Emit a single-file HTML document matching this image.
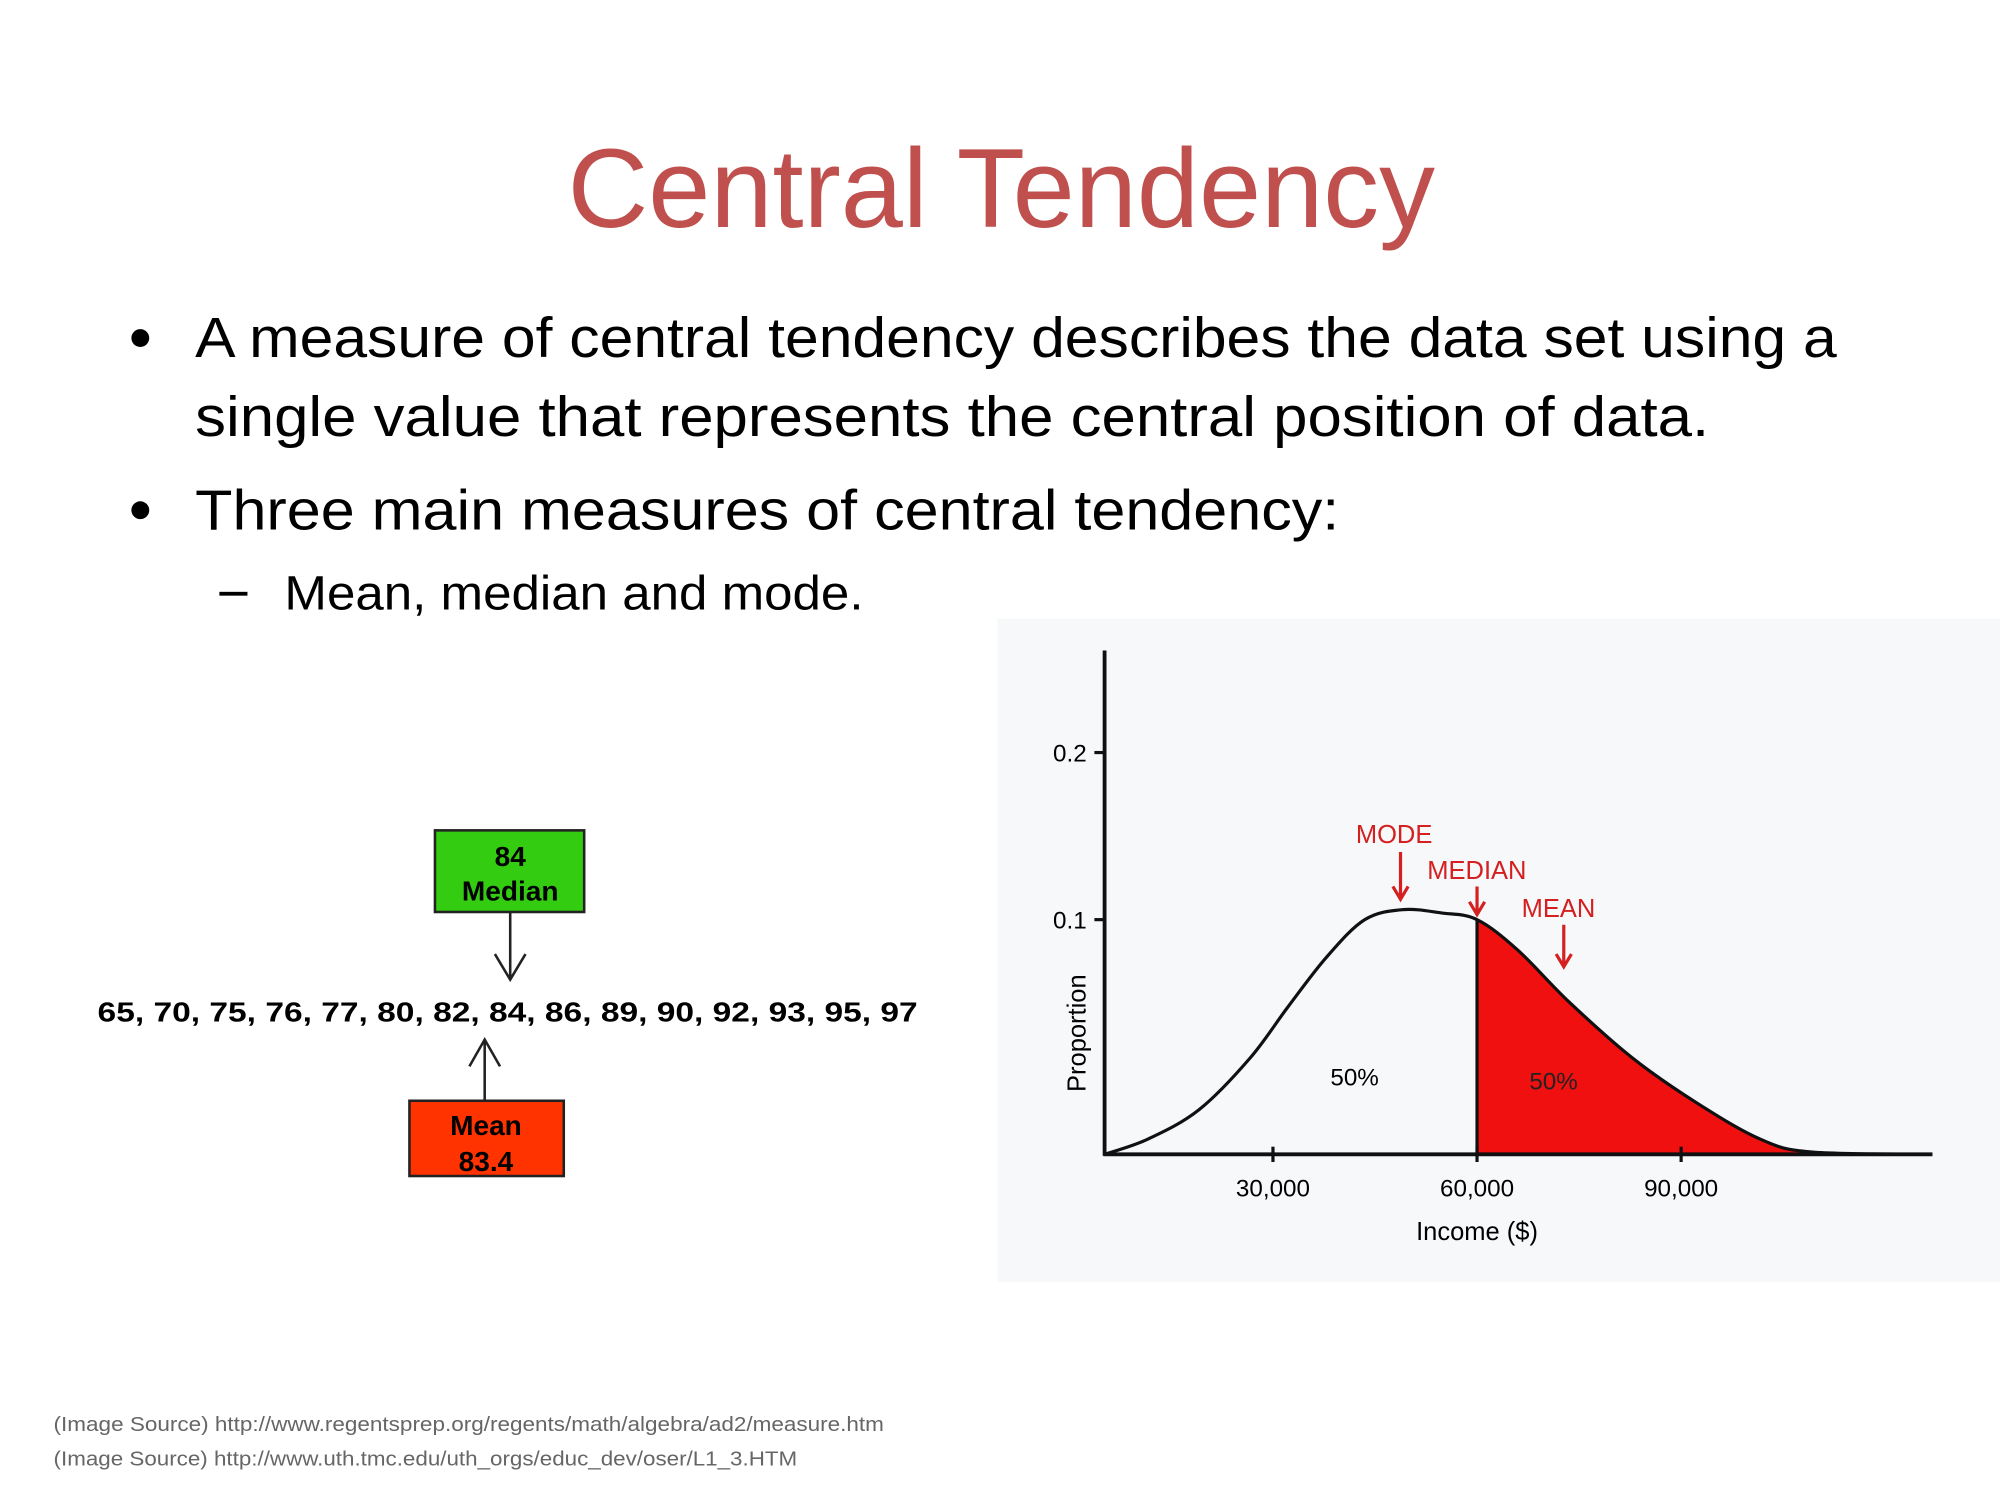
<!DOCTYPE html>
<html><head><meta charset="utf-8"><style>
html,body{margin:0;padding:0;background:#fff;}
svg{display:block;}
text{font-family:"Liberation Sans",sans-serif;}
</style></head><body>
<svg id="slide" width="2000" height="1500" viewBox="0 0 1568 1176">
<rect width="1568" height="1176" fill="#fff"/>
<text x="785" y="178" text-anchor="middle" font-size="88" fill="#c0504d" textLength="680" lengthAdjust="spacingAndGlyphs">Central Tendency</text>
<circle cx="110" cy="265" r="7" fill="#000"/>
<text x="153" y="280" font-size="44" textLength="1287" lengthAdjust="spacingAndGlyphs">A measure of central tendency describes the data set using a</text>
<text x="153" y="342" font-size="44" textLength="1187" lengthAdjust="spacingAndGlyphs">single value that represents the central position of data.</text>
<circle cx="110" cy="400" r="7" fill="#000"/>
<text x="153" y="415" font-size="44" textLength="897" lengthAdjust="spacingAndGlyphs">Three main measures of central tendency:</text>
<rect x="172" y="464" width="22" height="3" fill="#000"/>
<text x="223" y="478" font-size="38" textLength="454" lengthAdjust="spacingAndGlyphs">Mean, median and mode.</text>

<g>
<rect x="341" y="651" width="117" height="64" fill="#33cc11" stroke="#222" stroke-width="2"/>
<text x="400" y="679" text-anchor="middle" font-size="22" font-weight="bold">84</text>
<text x="400" y="706" text-anchor="middle" font-size="22" font-weight="bold">Median</text>
<path d="M400 715 V768 M388 748 L400 768 L412 748" stroke="#222" stroke-width="2" fill="none"/>
<text x="398" y="801" text-anchor="middle" font-size="22" font-weight="bold" textLength="643" lengthAdjust="spacingAndGlyphs">65, 70, 75, 76, 77, 80, 82, 84, 86, 89, 90, 92, 93, 95, 97</text>
<path d="M380 863 V815 M368 836 L380 815 L392 836" stroke="#222" stroke-width="2" fill="none"/>
<rect x="321" y="863" width="121" height="59" fill="#ff3300" stroke="#222" stroke-width="2"/>
<text x="381" y="890" text-anchor="middle" font-size="22" font-weight="bold">Mean</text>
<text x="381" y="918" text-anchor="middle" font-size="22" font-weight="bold">83.4</text>
</g>

<g id="chart">
<rect x="782" y="485" width="786" height="520" fill="#f7f8fa"/>
</g>

<text x="42" y="1122" font-size="16" fill="#666" textLength="651" lengthAdjust="spacingAndGlyphs">(Image Source) http://www.regentsprep.org/regents/math/algebra/ad2/measure.htm</text>
<text x="42" y="1149" font-size="16" fill="#666" textLength="583" lengthAdjust="spacingAndGlyphs">(Image Source) http://www.uth.tmc.edu/uth_orgs/educ_dev/oser/L1_3.HTM</text>
</svg>
<script>
const incomes = [5250,11625,19125,26625,32250,37875,43500,49125,54750,60000,66000,73500,82875,92250,101625,109125,126940];
const proportions = [0,0.0065,0.019,0.041,0.063,0.084,0.100,0.106,0.104,0.100,0.087,0.065,0.041,0.022,0.0065,0.001,0];
const xTicks = [30000,60000,90000];
const xTickLabels = ["30,000","60,000","90,000"];
const yTicks = [0.1,0.2];
const yTickLabels = ["0.1","0.2"];
const modeValue = 48750, medianValue = 60000, meanValue = 72750;

const NS = "http://www.w3.org/2000/svg";
const g = document.getElementById('chart');
const xS = v => 838 + v / 30000 * 160;
// axis as drawn in the source figure: compressed above 0.1
const yS = v => v <= 0.1 ? 905 - v * 1840 : 721 - (v - 0.1) * 1310;
function mk(tag, attrs, text){const e=document.createElementNS(NS,tag);for(const k in attrs)e.setAttribute(k,attrs[k]);if(text!==undefined)e.textContent=text;g.appendChild(e);return e;}
function interp(x){for(let i=0;i<incomes.length-1;i++){if(x>=incomes[i]&&x<=incomes[i+1]){const t=(x-incomes[i])/(incomes[i+1]-incomes[i]);return proportions[i]+t*(proportions[i+1]-proportions[i]);}}return 0;}
function smooth(pts){let d=`M${pts[0][0]},${pts[0][1]}`;for(let i=0;i<pts.length-1;i++){const p0=pts[Math.max(i-1,0)],p1=pts[i],p2=pts[i+1],p3=pts[Math.min(i+2,pts.length-1)];d+=` C${p1[0]+(p2[0]-p0[0])/6},${p1[1]+(p2[1]-p0[1])/6} ${p2[0]-(p3[0]-p1[0])/6},${p2[1]-(p3[1]-p1[1])/6} ${p2[0]},${p2[1]}`;}return d;}
const pts = incomes.map((v,i)=>[xS(v),yS(proportions[i])]);
const right = [[xS(medianValue),yS(interp(medianValue))]];
incomes.forEach((v,i)=>{if(v>medianValue)right.push([xS(v),yS(proportions[i])]);});
const fill = mk('path',{d:smooth(right)+` L${xS(incomes[incomes.length-1])},${yS(0)} L${xS(medianValue)},${yS(0)} Z`,fill:'#f01010'});


const curve = mk('path',{d:smooth(pts),fill:'none',stroke:'#111','stroke-width':2.5});


const medLine = mk('line',{x1:xS(medianValue),x2:xS(medianValue),y1:yS(interp(medianValue)),y2:yS(0),stroke:'#111','stroke-width':2.5});


const yAxis = mk('line',{x1:866,x2:866,y1:510,y2:906,stroke:'#111','stroke-width':3});


const xAxis = mk('line',{x1:865,x2:1515,y1:905,y2:905,stroke:'#111','stroke-width':3});


xTicks.forEach((v,i)=>{
  const t = mk('line',{x1:xS(v),x2:xS(v),y1:899,y2:911,stroke:'#111','stroke-width':2.5});
  
  
  const l = mk('text',{x:xS(v),y:938,'text-anchor':'middle','font-size':19},xTickLabels[i]);
  
  
});
yTicks.forEach((v,i)=>{
  const t = mk('line',{x1:858,x2:866,y1:yS(v),y2:yS(v),stroke:'#111','stroke-width':2.5});
  
  
  const l = mk('text',{x:852,y:yS(v)+7,'text-anchor':'end','font-size':19},yTickLabels[i]);
  
  
});
const xt = mk('text',{x:1158,y:972,'text-anchor':'middle','font-size':20},'Income ($)');


const yt = mk('text',{x:0,y:0,'text-anchor':'middle','font-size':20,transform:'translate(851,810) rotate(-90)'},'Proportion');


const p1 = mk('text',{x:1062,y:851,'text-anchor':'middle','font-size':19},'50%');


const p2 = mk('text',{x:1218,y:854,'text-anchor':'middle','font-size':19,fill:'#222'},'50%');


function marker(v,label,ty,ay1,ay2,lx,name){
  const x=xS(v);
  const a = mk('path',{d:`M${x} ${ay1} V${ay2} M${x-6} ${ay2-10} L${x} ${ay2} L${x+6} ${ay2-10}`,stroke:'#d42020','stroke-width':2.5,fill:'none'});
  
  
  const t = mk('text',{x:lx,y:ty,'font-size':20,fill:'#d42020'},label);
  
  
}
marker(modeValue,'MODE',661,668,705,1063,'mode');
marker(medianValue,'MEDIAN',689,695,717,1119,'median-marker');
marker(meanValue,'MEAN',719,725,758,1193,'mean-marker');
</script>
</body></html>
